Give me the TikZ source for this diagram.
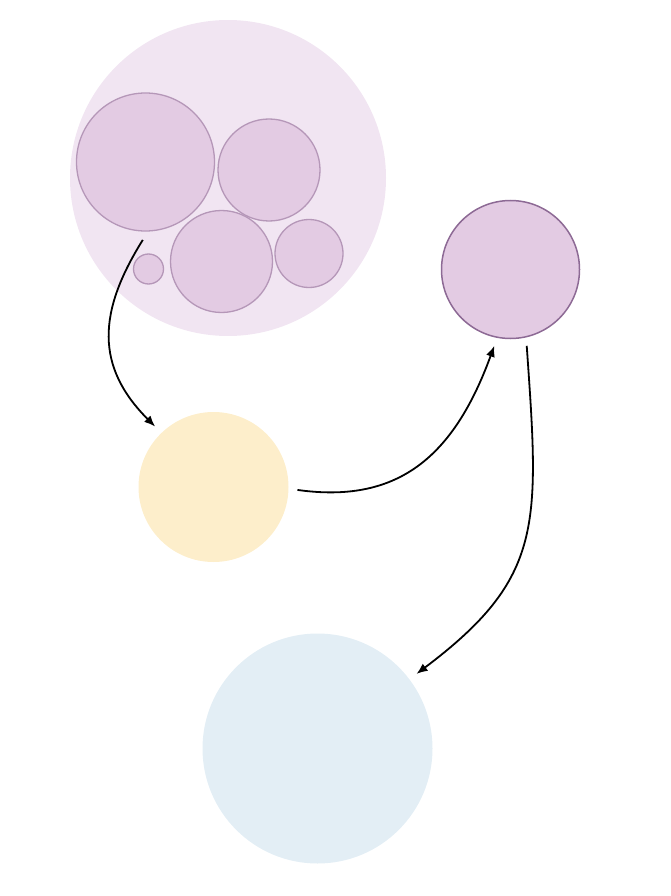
\documentclass[tikz,border=0pt]{standalone}
\usepackage{tikz}
\usetikzlibrary{positioning}
\usetikzlibrary{calc}
\usetikzlibrary{arrows.meta}

\definecolor{clusterbg}{HTML}{F1E5F2}
\definecolor{innerfill}{HTML}{E3CBE3}
\definecolor{innerline}{HTML}{B597B8}
\definecolor{procline}{HTML}{8D6A95}
\definecolor{yellowfill}{HTML}{FDEECB}
\definecolor{bluefill}{HTML}{E3EEF5}

\begin{document}
\begin{tikzpicture}[x=1pt,y=1pt,
    link/.style={-{Latex[length=11pt,width=9pt]}, line width=1.8pt},
    blob/.style={circle, inner sep=0pt, outer sep=9pt, draw=none}]
            \useasboundingbox (0,0) rectangle (670,-896);
            % Grupo
            \node [blob, fill=clusterbg, minimum size=316pt] (cluster) at (228,-178) {};
            \node [blob, fill=innerfill, draw=innerline, line width=1.3pt, minimum size=138pt] (inner1) at (145.5,-162) {};
            \node [blob, fill=innerfill, draw=innerline, line width=1.3pt, minimum size=102pt] (inner2) at (269,-170) {};
            \node [blob, fill=innerfill, draw=innerline, line width=1.3pt, minimum size=102pt] (inner3) at (221.5,-261.5) {};
            \node [blob, fill=innerfill, draw=innerline, line width=1.3pt, minimum size=68pt] (inner4) at (309,-253.5) {};
            \node [blob, fill=innerfill, draw=innerline, line width=1.3pt, minimum size=30pt] (inner5) at (148.5,-269) {};

            % Circulos
            \node [blob, fill=innerfill, draw=procline, line width=1.5pt, minimum size=138pt] (proc) at (510.5,-269.5) {};
            \node [blob, fill=yellowfill, minimum size=150pt] (yellow) at (213.5,-487) {};
            \node [blob, fill=bluefill, minimum size=230pt] (blue) at (317.5,-748.5) {};

            % Conexoes
            \draw[link] (inner1.-92) .. controls +(-122:85) and +(135:85) .. (yellow.134);
            \draw[link] (yellow.-2) .. controls +(-8:100) and +(-110:120) .. (proc.258);
            \draw[link] (proc.-78) .. controls +(-86:180) and +(37:160) .. (blue.37);
        \end{tikzpicture}
\end{document}
